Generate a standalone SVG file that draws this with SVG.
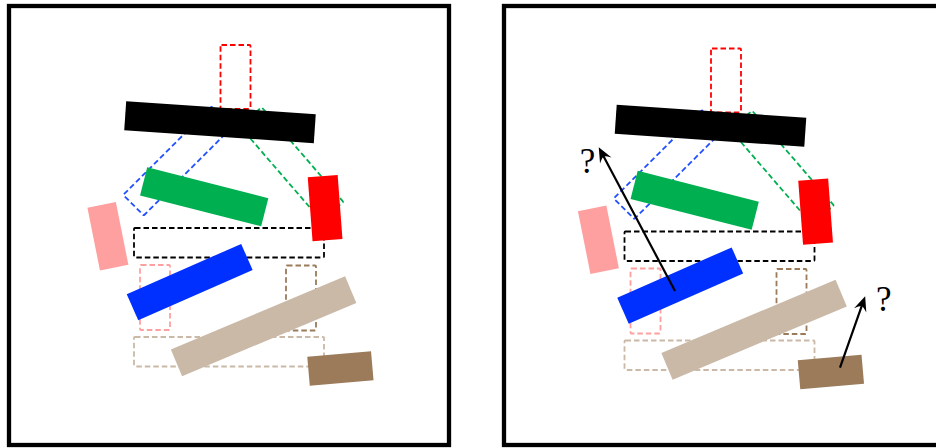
<svg xmlns="http://www.w3.org/2000/svg" width="936" height="448" viewBox="0 0 936 448">
  <style>
    .frame { fill: #ffffff; stroke: #000000; stroke-width: 4.3; }
    .dash { fill: none; stroke-width: 1.8; stroke-dasharray: 5.5 3; }
    .q { font-family: "Liberation Serif", "DejaVu Serif", serif; font-size: 35px; fill: #000000; text-anchor: middle; }
    .arrow { stroke: #000000; stroke-width: 2.2; fill: none; marker-end: url(#head); }
  </style>
  <defs>
    <marker id="head" viewBox="-16 -8 18 16" refX="-6" refY="0" markerWidth="18" markerHeight="16" markerUnits="userSpaceOnUse" orient="auto">
      <path d="M0.5,0 L-14.5,-6.5 Q-10,-1.5 -10,0 Q-10,1.5 -14.5,6.5 Z" fill="#000000"/>
    </marker>
    <g id="scene">
      <!-- target outlines (dashed) -->
      <rect class="dash" x="220.5" y="45" width="30" height="64" rx="1" stroke="#ff0000"/>
      <rect class="dash" x="-62.5" y="-14.5" width="125" height="29" rx="1" transform="translate(177.7,161) rotate(-45)" stroke="#1f4fff"/>
      <rect class="dash" x="-62.5" y="-14.5" width="125" height="29" rx="1" transform="translate(291.5,164) rotate(49.2)" stroke="#00b050"/>
      <rect class="dash" x="134" y="228" width="190" height="29.5" rx="1" stroke="#000000"/>
      <rect class="dash" x="140" y="265" width="30" height="65" rx="1" stroke="#ffa0a0"/>
      <rect class="dash" x="286" y="265.5" width="30" height="65" rx="1" stroke="#9b7b5a"/>
      <rect class="dash" x="134" y="337" width="190" height="29.5" rx="1" stroke="#cab9a7"/>
      <!-- solid blocks -->
      <rect x="-95" y="-14.5" width="190" height="29" transform="translate(220,122.2) rotate(3.9)" fill="#000000"/>
      <rect x="-62.5" y="-14.5" width="125" height="29" transform="translate(204.2,196.8) rotate(14.3)" fill="#00b050"/>
      <rect x="-15" y="-32" width="30" height="64" transform="translate(325.1,208.1) rotate(-4.3)" fill="#ff0000"/>
      <rect x="-14.5" y="-32" width="29" height="64" transform="translate(107.9,236.2) rotate(-11.3)" fill="#ffa0a0"/>
      <rect x="-62.5" y="-14.25" width="125" height="28.5" transform="translate(189.7,282.1) rotate(-23.75)" fill="#0030ff"/>
      <rect x="-94.5" y="-14.5" width="189" height="29" transform="translate(263.6,326.2) rotate(-22.8)" fill="#cab9a7"/>
      <rect x="-32" y="-14.5" width="64" height="29" transform="translate(340.4,368.5) rotate(-5)" fill="#9b7b5a"/>
    </g>
  </defs>

  <!-- left panel -->
  <g id="left-panel">
    <rect class="frame" x="9" y="6" width="440" height="439"/>
    <g id="left-blocks">
      <use href="#scene"/>
    </g>
  </g>

  <!-- right panel -->
  <g id="right-panel">
    <rect class="frame" x="504" y="6" width="440" height="439"/>
    <g id="right-blocks" transform="translate(490.5,3.5)">
      <use href="#scene"/>
    </g>
  </g>

  <!-- connectors -->
  <g id="connectors">
    <line class="arrow" x1="675" y1="291" x2="601.8" y2="153"/>
    <line class="arrow" x1="840" y1="367.7" x2="863" y2="302.3"/>
  </g>

  <g id="label-q1"><text class="q" x="587.5" y="173">?</text></g>
  <g id="label-q2"><text class="q" x="883.7" y="310.7">?</text></g>
</svg>
